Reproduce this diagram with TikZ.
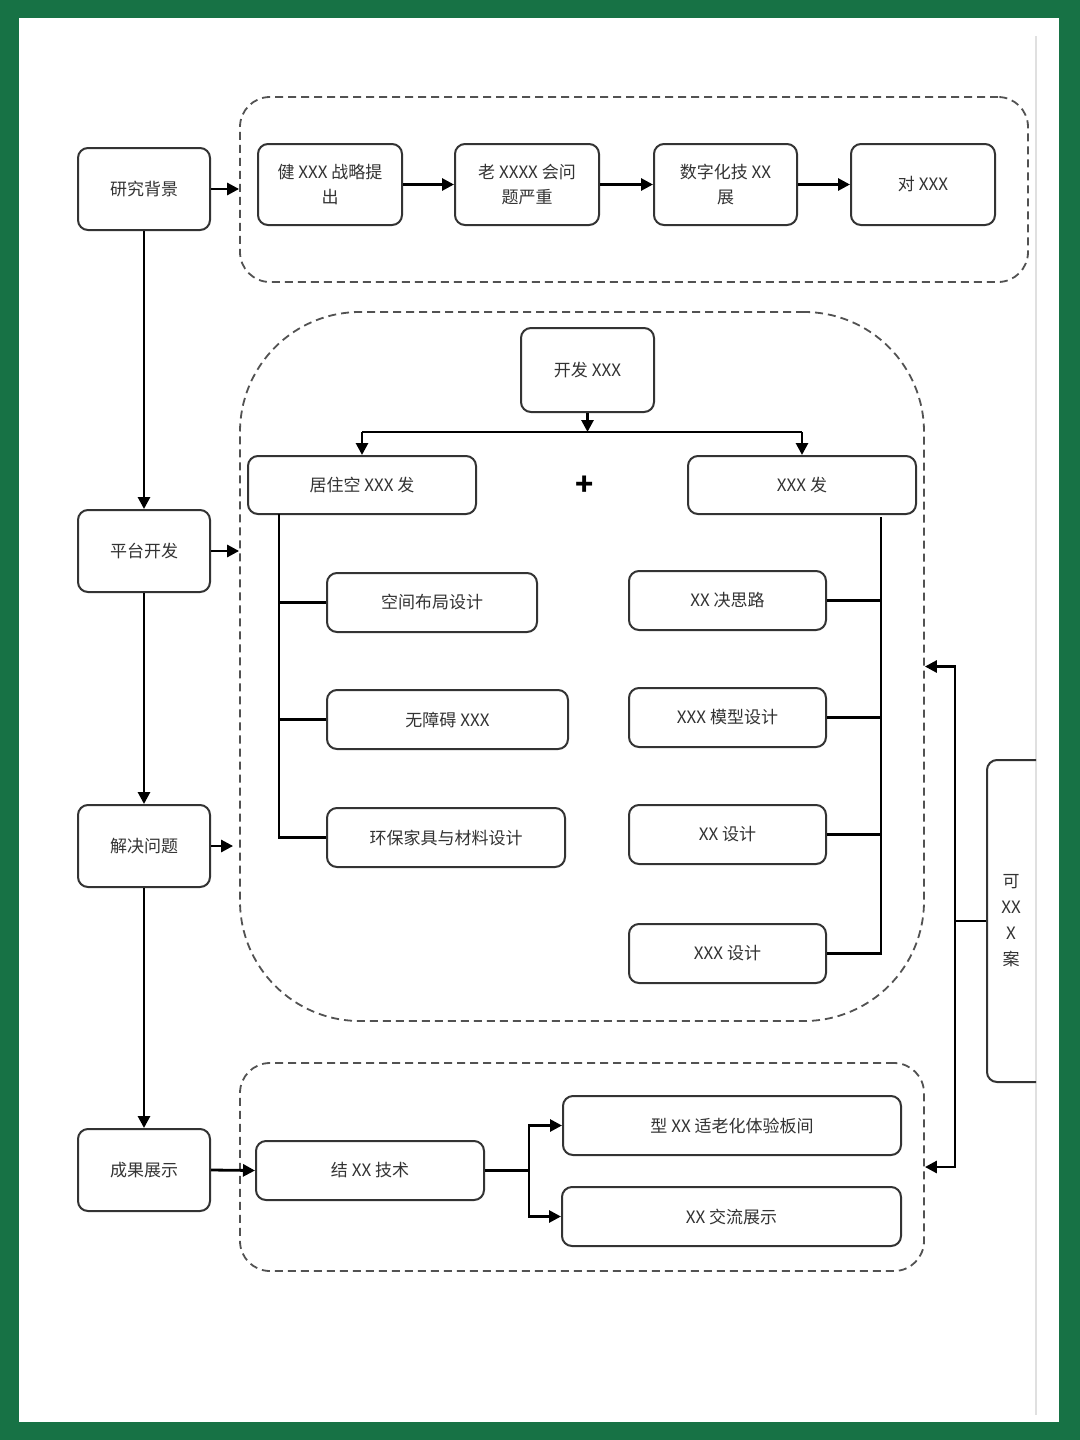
\documentclass[tikz,border=0pt]{standalone}
\usepackage{fontspec}
\setmainfont{Noto Sans CJK SC}
\usetikzlibrary{arrows.meta}
\definecolor{frame}{RGB}{23,114,69}
\definecolor{ink}{RGB}{51,51,51}
\begin{document}
\begin{tikzpicture}[x=0.5pt,y=-0.5pt,
 box/.style={draw=ink, line width=1pt, rounded corners=5pt, align=center,
   font=\fontsize{8.5}{12.5}\selectfont, text=ink, inner sep=0pt},
 wh/.style 2 args={minimum width=#1*0.5pt, minimum height=#2*0.5pt},
 cont/.style={draw=ink!85, line width=0.9pt, dash pattern=on 4pt off 2.5pt, inner sep=0pt},
 conn/.style={line width=1.4pt, black},
 arr/.style={conn, -{Triangle[length=6pt,width=6pt]}}]
% frame
\fill[frame] (0,0) rectangle (1080,1440);
\fill[white] (19,18) rectangle (1059,1422);
\draw[black!12, line width=0.6pt] (1036,36) -- (1036,1415);
\useasboundingbox (0,0) rectangle (1080,1440);

% containers
\node[cont, wh={788}{185}, rounded corners=15pt] (c1) at (634,189.5) {};
\node[cont, wh={684}{709}, rounded corners=60pt] (c2) at (582,666.5) {};
\node[cont, wh={684}{208}, rounded corners=15pt] (c3) at (582,1167) {};

% left column
\node[box, wh={132}{82}] (rb1) at (144,189) {研究背景};
\node[box, wh={132}{82}] (rb2) at (144,551) {平台开发};
\node[box, wh={132}{82}] (rb3) at (144,846) {解决问题};
\node[box, wh={132}{82}] (rb4) at (144,1170) {成果展示};

% top row
\node[box, wh={144}{81}] (t1) at (330,184.5) {健 XXX 战略提\\出};
\node[box, wh={144}{81}] (t2) at (527,184.5) {老 XXXX 会问\\题严重};
\node[box, wh={143}{81}] (t3) at (725.5,184.5) {数字化技 XX\\展};
\node[box, wh={144}{81}] (t4) at (923,184.5) {对 XXX};

% middle
\node[box, wh={133}{84}] (kf) at (587.5,370) {开发 XXX};
\node[box, wh={228}{58}] (l0) at (362,485) {居住空 XXX 发};
\node[box, wh={228}{58}] (r0) at (802,485) {XXX 发};
\node[font=\fontsize{15}{15}\selectfont\bfseries, inner sep=0pt] (plus) at (585,486) {+};
\node[box, wh={210}{59}] (l1) at (432,602.5) {空间布局设计};
\node[box, wh={241}{59}] (l2) at (447.5,719.5) {无障碍 XXX};
\node[box, wh={238}{59}] (l3) at (446,837.5) {环保家具与材料设计};
\node[box, wh={197}{59}] (r1) at (727.5,600.5) {XX 决思路};
\node[box, wh={197}{59}] (r2) at (727.5,717.5) {XXX 模型设计};
\node[box, wh={197}{59}] (r3) at (727.5,834.5) {XX 设计};
\node[box, wh={197}{59}] (r4) at (727.5,953.5) {XXX 设计};

% bottom
\node[box, wh={228}{59}] (b0) at (370,1170.5) {结 XX 技术};
\node[box, wh={338}{59}] (b1) at (732,1125.5) {型 XX 适老化体验板间};
\node[box, wh={339}{59}] (b2) at (731.5,1216.5) {XX 交流展示};

% right box (clipped by page edge)
\begin{scope}
\clip (0,0) rectangle (1036,1440);
\node[box, wh={80}{322}] (rbx) at (1027,921) {};
\end{scope}
\node[font=\fontsize{8.5}{13}\selectfont, text=ink, align=center, inner sep=0pt] (rbt) at (1011,921) {可\\XX\\X\\案};

% connectors: left column
\draw[arr] (rb1) -- (rb2);
\draw[arr] (rb2) -- (rb3);
\draw[arr] (rb3) -- (rb4);
\draw[arr] (rb1.east) -- (rb1.east -| c1.west);
\draw[arr] (rb2.east) -- (rb2.east -| c2.west);
\draw[arr] (rb3.east) -- ([xshift=-3pt]rb3.east -| c2.west);
\draw[arr] (rb4.east) -- (b0.west);

% top row
\draw[arr] (t1) -- (t2);
\draw[arr] (t2) -- (t3);
\draw[arr] (t3) -- (t4);

% middle tree
\coordinate (hl) at (362,432);
\coordinate (hr) at (802,432);
\draw[conn] (hl) -- (hr);
\draw[arr] (kf.south) -- (kf.south |- hl);
\draw[arr] (hl) -- (l0.north);
\draw[arr] (hr) -- (r0.north);
\coordinate (lt) at (279,514);
\draw[conn] (lt) |- (l3.west);
\draw[conn] (lt |- l1.west) -- (l1.west);
\draw[conn] (lt |- l2.west) -- (l2.west);
\coordinate (rt) at (881,517);
\draw[conn] (rt) |- (r4.east);
\draw[conn] (rt |- r1.east) -- (r1.east);
\draw[conn] (rt |- r2.east) -- (r2.east);
\draw[conn] (rt |- r3.east) -- (r3.east);

% bottom
\coordinate (bj) at (529,1170.5);
\draw[conn] (b0.east) -- (bj);
\draw[arr] (bj) |- (b1.west);
\draw[arr] (bj) |- (b2.west);

% right bracket
\coordinate (jr) at (955,921);
\draw[conn] (rbx.west) -- (jr);
\draw[arr] (jr) |- (c2.east);
\draw[arr] (jr) |- (c3.east);
\end{tikzpicture}
\end{document}
